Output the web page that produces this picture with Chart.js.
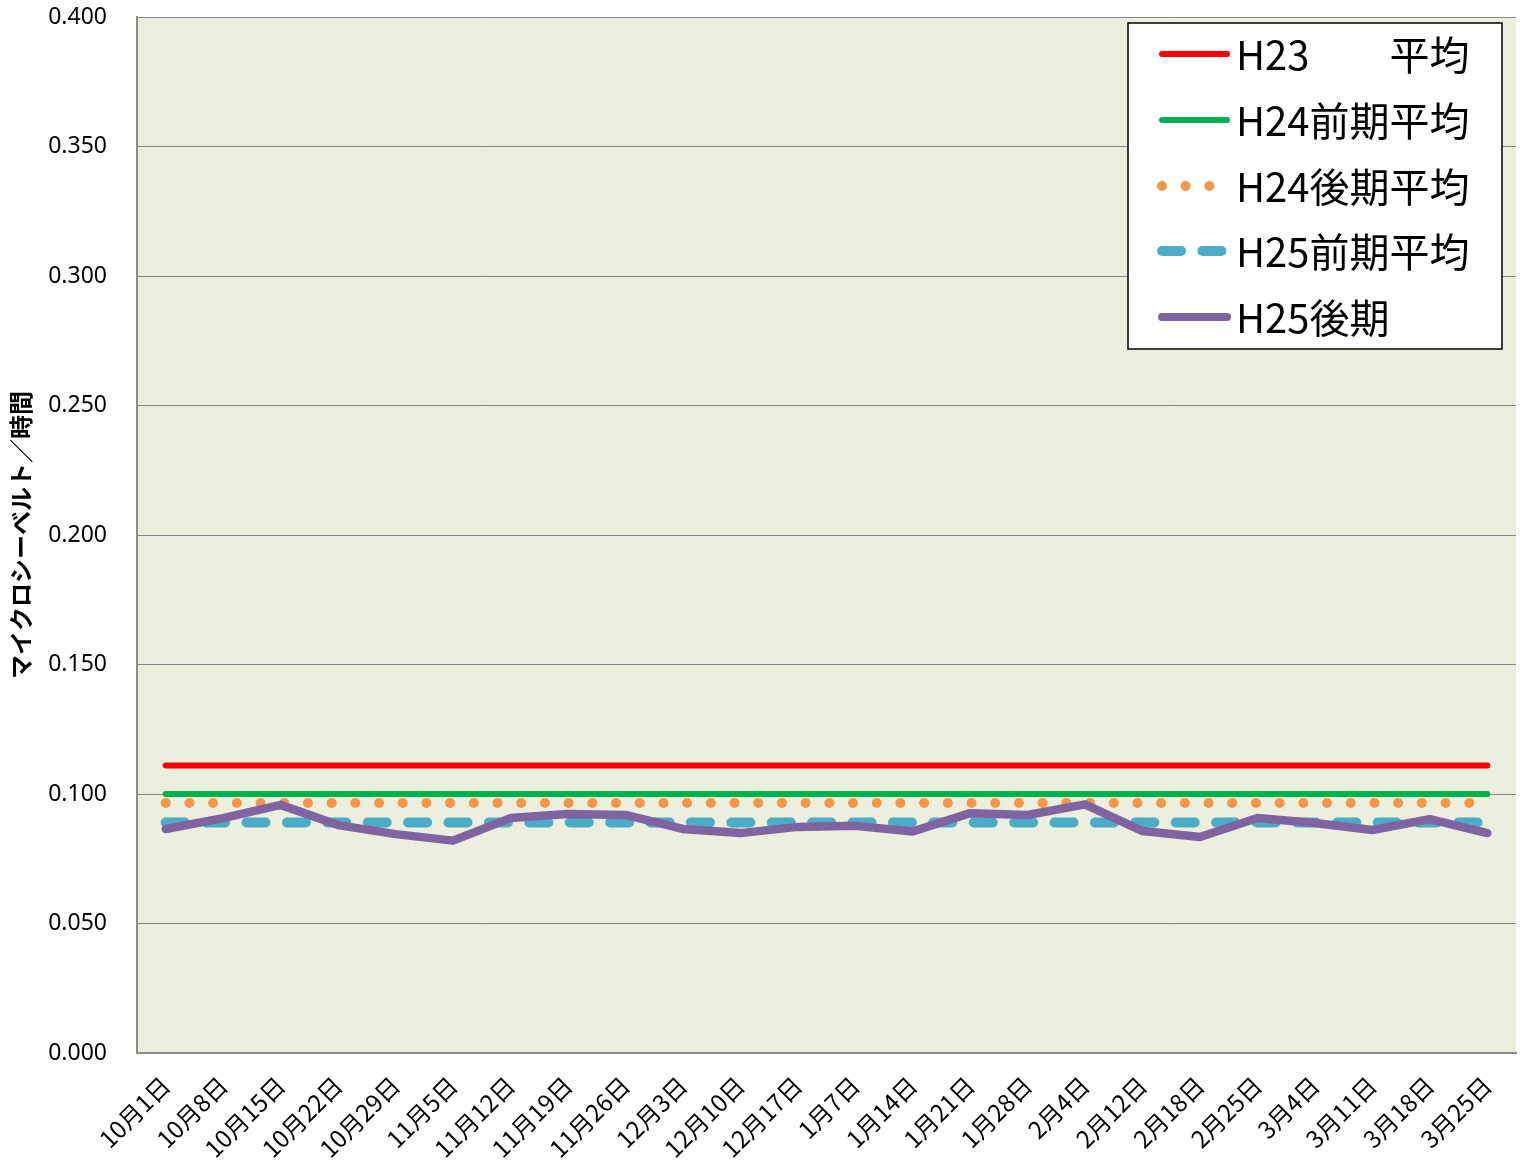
<!DOCTYPE html>
<html>
<head>
<meta charset="utf-8">
<script src="https://cdn.jsdelivr.net/npm/chart.js@4.4.1/dist/chart.umd.min.js"></script>
<style>
  html, body { margin: 0; padding: 0; background: #ffffff; }
  #wrap { width: 1520px; height: 1163px; }
</style>
</head>
<body>
<div id="wrap"><canvas id="c" width="1520" height="1163"></canvas></div>
<script>
const categories = ["10月1日","10月8日","10月15日","10月22日","10月29日","11月5日","11月12日","11月19日","11月26日","12月3日","12月10日","12月17日","1月7日","1月14日","1月21日","1月28日","2月4日","2月12日","2月18日","2月25日","3月4日","3月11日","3月18日","3月25日"];

const seriesNames = ["H23　　平均", "H24前期平均", "H24後期平均", "H25前期平均", "H25後期"];

const h23Avg = [0.111,0.111,0.111,0.111,0.111,0.111,0.111,0.111,0.111,0.111,0.111,0.111,0.111,0.111,0.111,0.111,0.111,0.111,0.111,0.111,0.111,0.111,0.111,0.111];
const h24EarlyAvg = [0.100,0.100,0.100,0.100,0.100,0.100,0.100,0.100,0.100,0.100,0.100,0.100,0.100,0.100,0.100,0.100,0.100,0.100,0.100,0.100,0.100,0.100,0.100,0.100];
const h24LateAvg = [0.0965,0.0965,0.0965,0.0965,0.0965,0.0965,0.0965,0.0965,0.0965,0.0965,0.0965,0.0965,0.0965,0.0965,0.0965,0.0965,0.0965,0.0965,0.0965,0.0965,0.0965,0.0965,0.0965,0.0965];
const h25EarlyAvg = [0.089,0.089,0.089,0.089,0.089,0.089,0.089,0.089,0.089,0.089,0.089,0.089,0.089,0.089,0.089,0.089,0.089,0.089,0.089,0.089,0.089,0.089,0.089,0.089];
const h25Late = [0.0865,0.0907,0.0958,0.0880,0.0845,0.0820,0.0907,0.0923,0.0919,0.0865,0.0849,0.0873,0.0877,0.0855,0.0926,0.0919,0.0960,0.0857,0.0834,0.0907,0.0888,0.0861,0.0903,0.0849];

const yTickMin = 0.0, yTickMax = 0.4, yTickStep = 0.05;
const yTitle = "マイクロシーベルト／時間";

const FONT = "'Noto Sans CJK JP', 'Noto Sans', sans-serif";
const NUMFONT = "'Noto Sans', 'Noto Sans CJK JP', sans-serif";

const plotBg = {
  id: 'plotBg',
  beforeDraw(chart) {
    const {ctx, chartArea: a} = chart;
    ctx.save();
    ctx.fillStyle = '#EBEFDE';
    ctx.fillRect(a.left, a.top, a.right - a.left, a.bottom - a.top);
    ctx.restore();
  }
};

const boxLegend = {
  id: 'boxLegend',
  afterDraw(chart) {
    const ctx = chart.ctx;
    const x0 = 1128, y0 = 23, w = 374, h = 326;
    ctx.save();
    ctx.fillStyle = '#ffffff';
    ctx.fillRect(x0, y0, w, h);
    ctx.strokeStyle = '#000000';
    ctx.lineWidth = 1.5;
    ctx.strokeRect(x0, y0, w, h);
    const rowY = [54, 120, 186, 251, 317];
    chart.data.datasets.forEach((ds, i) => {
      const y = rowY[i];
      ctx.save();
      ctx.strokeStyle = ds.borderColor;
      ctx.lineWidth = ds.legendWidth || ds.borderWidth;
      ctx.lineCap = 'round';
      ctx.setLineDash(ds.borderDash || []);
      ctx.beginPath();
      ctx.moveTo(ds.legendFrom || 1162, y);
      ctx.lineTo(ds.legendTo || 1227, y);
      ctx.stroke();
      ctx.restore();
      ctx.fillStyle = '#000000';
      ctx.font = "40px " + FONT;
      ctx.textBaseline = 'middle';
      ctx.textAlign = 'left';
      ctx.fillText(ds.label, 1236, y + 1);
    });
    ctx.restore();
  }
};

const lineBase = { pointRadius: 0, pointHoverRadius: 0, tension: 0, fill: false, borderCapStyle: 'round', borderJoinStyle: 'round' };

new Chart(document.getElementById('c'), {
  type: 'line',
  data: {
    labels: categories,
    datasets: [
      Object.assign({}, lineBase, { label: seriesNames[0], data: h23Avg, borderColor: '#FF0000', borderWidth: 6, order: 4 }),
      Object.assign({}, lineBase, { label: seriesNames[1], data: h24EarlyAvg, borderColor: '#00B050', borderWidth: 6, order: 3 }),
      Object.assign({}, lineBase, { label: seriesNames[2], data: h24LateAvg, borderColor: '#F79646', borderWidth: 10, borderDash: [0, 23.7], order: 2, legendFrom: 1162, legendTo: 1211 }),
      Object.assign({}, lineBase, { label: seriesNames[3], data: h25EarlyAvg, borderColor: '#4BACC6', borderWidth: 10, borderDash: [19, 21.4], order: 1, legendFrom: 1162, legendTo: 1224 }),
      Object.assign({}, lineBase, { label: seriesNames[4], data: h25Late, borderColor: '#8064A2', borderWidth: 8.5, order: 0, legendWidth: 8 })
    ]
  },
  options: {
    responsive: false,
    animation: false,
    devicePixelRatio: 1,
    layout: { padding: { top: 17, right: 4, left: 0, bottom: 0 } },
    plugins: {
      legend: { display: false },
      tooltip: { enabled: false },
      title: { display: false }
    },
    scales: {
      x: {
        type: 'category',
        offset: true,
        grid: { display: false, drawTicks: false },
        border: { display: true, color: '#8C8C8C', width: 2 },
        ticks: {
          autoSkip: false,
          maxRotation: 45,
          minRotation: 45,
          padding: 18,
          color: '#000000',
          font: { family: FONT, size: 24 }
        },
        afterFit(scale) { scale.height = 110; scale.paddingLeft = 0; scale.paddingRight = 0; }
      },
      y: {
        min: yTickMin,
        max: yTickMax,
        grid: { color: '#878787', lineWidth: 1, drawTicks: false },
        border: { display: true, color: '#8C8C8C', width: 2 },
        ticks: {
          stepSize: yTickStep,
          padding: 30,
          color: '#000000',
          font: { family: NUMFONT, size: 23 },
          callback: (v) => Number(v).toFixed(3)
        },
        title: {
          display: true,
          text: yTitle,
          color: '#000000',
          font: { family: FONT, size: 24, weight: 'bold' },
          padding: { top: 6, bottom: 0 }
        },
        afterFit(scale) { scale.width = 137; scale.paddingTop = 0; scale.paddingBottom = 0; }
      }
    }
  },
  plugins: [plotBg, boxLegend]
});
</script>
</body>
</html>
